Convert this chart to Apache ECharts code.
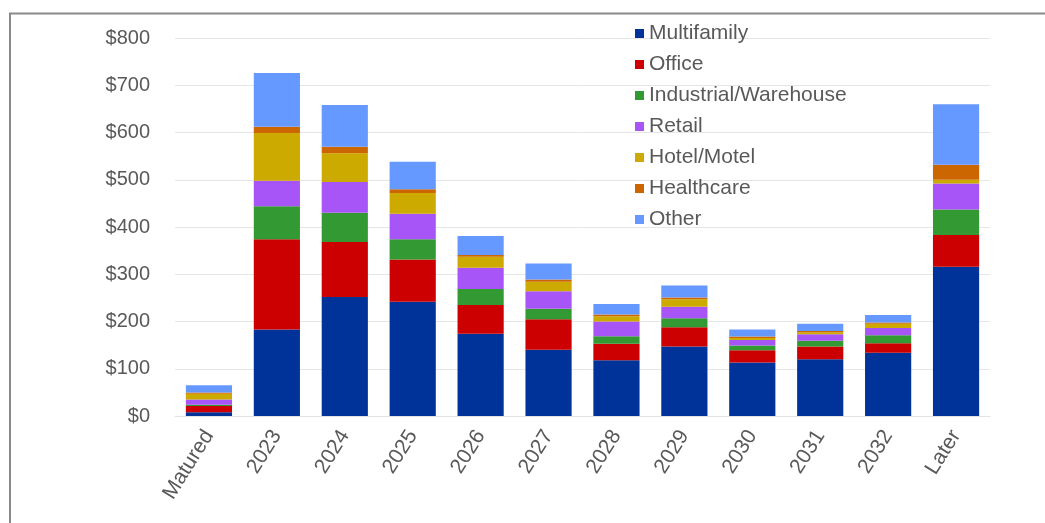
<!DOCTYPE html>
<html>
<head>
<meta charset="utf-8">
<script src="https://cdn.jsdelivr.net/npm/echarts@6/dist/echarts.min.js"></script>
<style>
  html, body { margin: 0; padding: 0; background: #ffffff; }
  #chart { width: 1045px; height: 523px; }
</style>
</head>
<body>
<div id="chart"></div>
<script>
// Loan maturities by year and property type ($ billions)
const categories = ['Matured', '2023', '2024', '2025', '2026', '2027', '2028', '2029', '2030', '2031', '2032', 'Later'];

const multifamily = [8, 183, 252, 242, 174, 140, 118, 147, 113, 120, 134, 316];
const office      = [13, 191, 116, 89, 61, 65, 35, 41, 26, 27, 20, 67];
const industrial  = [3, 70, 62, 43, 34, 22, 16, 19, 10, 12, 17, 54];
const retail      = [11, 54, 65, 54, 45, 37, 31, 24, 12, 14, 15, 55];
const hotel       = [12, 101, 61, 44, 23, 20, 11, 16, 4, 4, 9, 8];
const healthcare  = [3, 13, 14, 8, 4, 5, 4, 4, 3, 3, 3, 32];
const other       = [15, 114, 88, 58, 40, 34, 22, 25, 15, 15, 16, 128];

const yTicks = [0, 100, 200, 300, 400, 500, 600, 700, 800];

const seriesDefs = [
  { name: 'Multifamily', data: multifamily, color: '#003399' },
  { name: 'Office', data: office, color: '#CC0000' },
  { name: 'Industrial/Warehouse', data: industrial, color: '#339933' },
  { name: 'Retail', data: retail, color: '#A855F7' },
  { name: 'Hotel/Motel', data: hotel, color: '#CCAA00' },
  { name: 'Healthcare', data: healthcare, color: '#CC6600' },
  { name: 'Other', data: other, color: '#6699FF' }
];

const textColor = '#595959';
const fontFamily = '"Liberation Sans", Arial, sans-serif';

const chart = echarts.init(document.getElementById('chart'), null, { renderer: 'canvas' });

chart.setOption({
  animation: false,
  backgroundColor: '#ffffff',
  textStyle: { fontFamily: fontFamily },
  grid: { left: 175, right: 55, top: 38, bottom: 107, containLabel: false },
  legend: {
    orient: 'vertical',
    left: 630,
    top: 17,
    itemWidth: 9,
    itemHeight: 9,
    itemGap: 8,
    icon: 'rect',
    textStyle: { color: textColor, fontSize: 21, lineHeight: 23, fontFamily: fontFamily },
    data: seriesDefs.map(s => s.name)
  },
  xAxis: {
    type: 'category',
    data: categories,
    axisLine: { show: true, lineStyle: { color: '#e3e3e3', width: 1 } },
    axisTick: { show: false },
    axisLabel: {
      color: textColor,
      fontSize: 21,
      rotate: 58,
      margin: 16,
      fontFamily: fontFamily,
      interval: 0
    }
  },
  yAxis: {
    type: 'value',
    min: yTicks[0],
    max: yTicks[yTicks.length - 1],
    interval: 100,
    axisLine: { show: false },
    axisTick: { show: false },
    splitLine: { lineStyle: { color: '#e6e6e6', width: 1 } },
    axisLabel: {
      color: textColor,
      fontSize: 20,
      margin: 25,
      fontFamily: fontFamily,
      formatter: v => '$' + v
    }
  },
  series: seriesDefs.map(s => ({
    name: s.name,
    type: 'bar',
    stack: 'total',
    data: s.data,
    barCategoryGap: '32%',
    itemStyle: { color: s.color }
  })),
  graphic: [
    {
      type: 'polyline',
      shape: { points: [[10, 523], [10, 13.5], [1045, 13.5]] },
      style: { stroke: '#8a8a8a', lineWidth: 2, fill: null },
      silent: true
    }
  ]
});
</script>
</body>
</html>
